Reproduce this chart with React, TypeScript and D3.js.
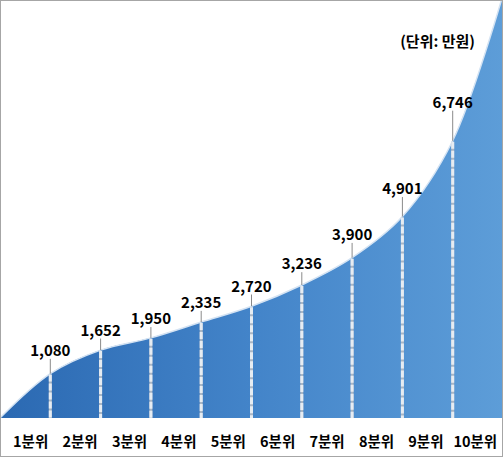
import React from 'react';
import * as d3 from 'd3';

const quantileLabels = ['1분위', '2분위', '3분위', '4분위', '5분위', '6분위', '7분위', '8분위', '9분위', '10분위'];
// boundary values (만원) labelled on the dashed lines
const boundaryValues = [1080, 1652, 1950, 2335, 2720, 3236, 3900, 4901, 6746];
// full curve: start, boundaries, estimated top end (off chart)
const curveValues = [0, 1080, 1652, 1950, 2335, 2720, 3236, 3900, 4901, 6746, 10300];
const unitLabel = '(단위: 만원)';

const W = 504;
const H = 462;
const FONT = "'Noto Sans CJK KR', 'Noto Sans', sans-serif";

export default function App() {
  const frame = { left: 1, top: 1, right: 503, bottom: 457 };
  const x = d3.scaleLinear().domain([0, curveValues.length - 1]).range([0, 503]);
  const y = d3.scaleLinear().domain([0, 10000]).range([418, 7]);
  const band = d3.scaleBand<string>().domain(quantileLabels).range([6, 500]);

  const area = d3
    .area<number>()
    .x((_, i) => x(i))
    .y0(y(0))
    .y1((d) => y(d))
    .curve(d3.curveCatmullRom.alpha(0.5));
  const line = d3
    .line<number>()
    .x((_, i) => x(i))
    .y((d) => y(d))
    .curve(d3.curveCatmullRom.alpha(0.5));

  const fmt = d3.format(',');

  return (
    <svg
      width={W}
      height={H}
      style={{ position: 'absolute', left: 0, top: 0, background: '#fff' }}
    >
      <defs>
        <linearGradient id="areaGrad" x1="0" y1="0" x2="1" y2="0">
          <stop offset="0%" stopColor="#2b69b2" />
          <stop offset="50%" stopColor="#4384c9" />
          <stop offset="100%" stopColor="#5d9dd8" />
        </linearGradient>
        <clipPath id="frameClip">
          <rect x={frame.left} y={frame.top} width={frame.right - frame.left} height={frame.bottom - frame.top} />
        </clipPath>
      </defs>
      <g clipPath="url(#frameClip)">
        <path d={area(curveValues) || ''} fill="url(#areaGrad)" />
        <path d={line(curveValues) || ''} fill="none" stroke="#d4e3f3" strokeWidth={1.5} />
      </g>
      {boundaryValues.map((v, k) => {
        const i = k + 1;
        const cx = x(i);
        const slope = (y(curveValues[i - 1]) - y(curveValues[i + 1])) / (x(i + 1) - x(i - 1));
        const offset = 11 + 10 * slope;
        const ty = y(v) - offset;
        return (
          <g key={v}>
            <line x1={cx} x2={cx} y1={ty + 3} y2={y(v)} stroke="#8a8a8a" strokeWidth={1} />
            <line x1={cx} x2={cx} y1={y(v) + 1} y2={y(0)} stroke="#aab6c4" strokeWidth={3} />
            <line
              x1={cx}
              x2={cx}
              y1={y(v) + 1}
              y2={y(0)}
              stroke="#e6ecf2"
              strokeWidth={3}
              strokeDasharray="7,2"
            />
            <text
              x={cx}
              y={ty}
              textAnchor="middle"
              fontFamily={FONT}
              fontWeight="bold"
              fontSize={15}
              fill="#000"
            >
              {fmt(v)}
            </text>
          </g>
        );
      })}
      {quantileLabels.map((q) => (
        <text
          key={q}
          x={(band(q) || 0) + band.bandwidth() / 2}
          y={447}
          textAnchor="middle"
          fontFamily={FONT}
          fontWeight="bold"
          fontSize={14.5}
          fill="#000"
        >
          {q}
        </text>
      ))}
      <text
        x={475}
        y={47}
        textAnchor="end"
        fontFamily={FONT}
        fontWeight="bold"
        fontSize={15}
        fill="#000"
      >
        {unitLabel}
      </text>
      <rect
        x={frame.left - 0.5}
        y={frame.top - 0.5}
        width={frame.right - frame.left}
        height={frame.bottom - frame.top}
        fill="none"
        stroke="#a6a6a6"
        strokeWidth={1}
      />
    </svg>
  );
}
